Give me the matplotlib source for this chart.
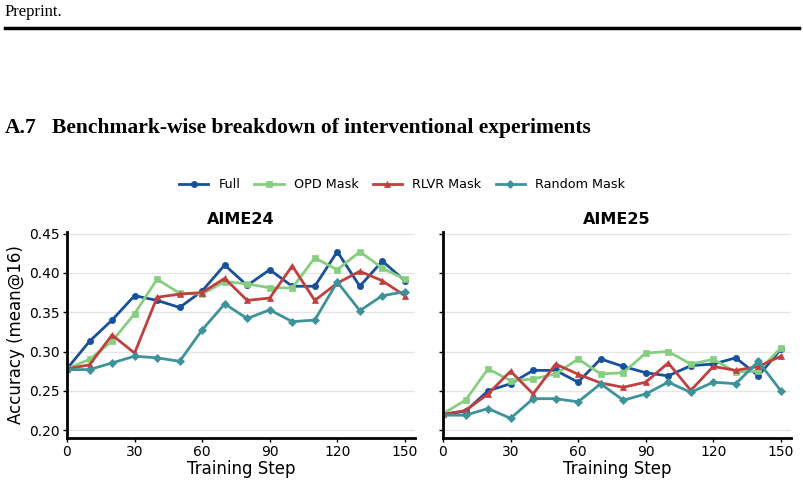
import matplotlib
matplotlib.use("Agg")
import matplotlib.pyplot as plt
from matplotlib.lines import Line2D

steps = [0, 10, 20, 30, 40, 50, 60, 70, 80, 90, 100, 110, 120, 130, 140, 150]

aime24_full = [0.278, 0.313, 0.340, 0.371, 0.365, 0.356, 0.377, 0.410, 0.384, 0.404, 0.383, 0.383, 0.427, 0.383, 0.415, 0.390]
aime24_opd = [0.278, 0.290, 0.313, 0.348, 0.392, 0.374, 0.373, 0.389, 0.386, 0.381, 0.381, 0.419, 0.404, 0.427, 0.406, 0.392]
aime24_rlvr = [0.278, 0.283, 0.321, 0.298, 0.369, 0.373, 0.375, 0.393, 0.365, 0.368, 0.409, 0.365, 0.387, 0.402, 0.390, 0.371]
aime24_random = [0.277, 0.277, 0.2855, 0.294, 0.292, 0.2875, 0.3275, 0.3605, 0.342, 0.353, 0.338, 0.340, 0.3885, 0.352, 0.371, 0.376]

aime25_full = [0.220, 0.224, 0.250, 0.259, 0.276, 0.276, 0.261, 0.2905, 0.281, 0.273, 0.269, 0.282, 0.284, 0.292, 0.269, 0.303]
aime25_opd = [0.221, 0.238, 0.278, 0.263, 0.265, 0.2715, 0.2905, 0.2715, 0.273, 0.298, 0.300, 0.284, 0.290, 0.274, 0.275, 0.3045]
aime25_rlvr = [0.220, 0.225, 0.246, 0.275, 0.246, 0.284, 0.271, 0.260, 0.2545, 0.261, 0.2855, 0.2505, 0.281, 0.276, 0.281, 0.294]
aime25_random = [0.219, 0.219, 0.2275, 0.215, 0.240, 0.240, 0.236, 0.259, 0.238, 0.246, 0.261, 0.248, 0.261, 0.259, 0.2875, 0.250]

series_names = ["Full", "OPD Mask", "RLVR Mask", "Random Mask"]
benchmarks = ["AIME24", "AIME25"]
data = {
    "AIME24": [aime24_full, aime24_opd, aime24_rlvr, aime24_random],
    "AIME25": [aime25_full, aime25_opd, aime25_rlvr, aime25_random],
}
colors = ["#17509b", "#86cf80", "#c0403f", "#3e9299"]
markers = ["o", "s", "^", "D"]
msizes = [4.5, 5, 5, 4.5]
xticks = [0, 30, 60, 90, 120, 150]
yticks = [0.20, 0.25, 0.30, 0.35, 0.40, 0.45]

W, H = 804, 487
fig = plt.figure(figsize=(W / 100, H / 100), dpi=100)
fig.patch.set_facecolor("white")

serif = ["Liberation Serif", "DejaVu Serif"]
fig.text(5 / W, 1 - 12 / H, "Preprint.", family=serif, fontsize=12, va="center", ha="left")
fig.add_artist(Line2D([5 / W, 799 / W], [1 - 28 / H, 1 - 28 / H], color="black", lw=2.5, transform=fig.transFigure))
fig.text(5 / W, 1 - 128 / H, "A.7", family=serif, fontsize=15.5, fontweight="bold", va="center", ha="left")
fig.text(52 / W, 1 - 128 / H, "Benchmark-wise breakdown of interventional experiments",
         family=serif, fontsize=15.5, fontweight="bold", va="center", ha="left")

axes = []
for i, bench in enumerate(benchmarks):
    left = (67 if i == 0 else 443) / W
    ax = fig.add_axes([left, 1 - 438 / H, 348 / W, 206 / H])
    axes.append(ax)
    for vals, c, m, ms, name in zip(data[bench], colors, markers, msizes, series_names):
        ax.plot(steps, vals, color=c, marker=m, markersize=ms, lw=2, label=name,
                markeredgecolor=c, markeredgewidth=0.5)
    ax.set_xlim(0, 154.5)
    ax.set_ylim(0.19, 0.452)
    ax.set_xticks(xticks)
    ax.set_yticks(yticks)
    ax.grid(axis="y", color="#e6e6e6", lw=1)
    ax.set_axisbelow(True)
    for s in ["top", "right"]:
        ax.spines[s].set_visible(False)
    for s in ["left", "bottom"]:
        ax.spines[s].set_linewidth(2)
        ax.spines[s].set_color("black")
    ax.tick_params(axis="both", labelsize=10, length=3, width=1, pad=2)
    ax.set_title(bench, fontsize=11.5, fontweight="bold", pad=6)
    ax.set_xlabel("Training Step", fontsize=12, labelpad=1)
    if i == 0:
        ax.set_yticklabels([f"{v:.2f}" for v in yticks])
        ax.set_ylabel("Accuracy (mean@16)", fontsize=12, labelpad=3)
    else:
        ax.set_yticklabels([])

handles, labels = axes[0].get_legend_handles_labels()
fig.legend(handles, labels, loc="center", bbox_to_anchor=(402 / W, 1 - 185 / H), ncol=4,
           frameon=False, fontsize=9.2, handlelength=2.3, columnspacing=1.1, handletextpad=0.8)

fig.savefig("out.png", dpi=100)
